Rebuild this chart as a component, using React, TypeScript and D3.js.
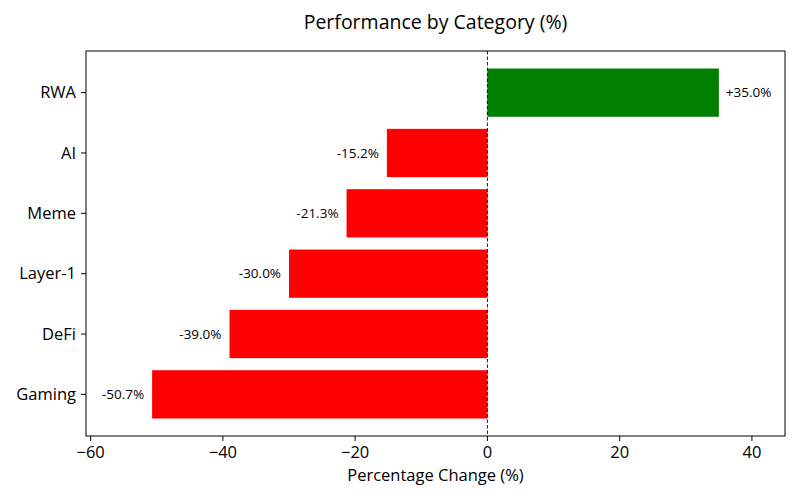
import React, { useEffect, useRef } from 'react';
import * as d3 from 'd3';

const categories = ['Gaming', 'DeFi', 'Layer-1', 'Meme', 'AI', 'RWA'];
const changes = [-50.7, -39.0, -30.0, -21.3, -15.2, 35.0];
const xTicks = [-60, -40, -20, 0, 20, 40];

const FONT = '"Open Sans", "DejaVu Sans", sans-serif';

const App: React.FC = () => {
    const ref = useRef<SVGSVGElement>(null);

    useEffect(() => {
        if (!ref.current) return;
        const svg = d3.select(ref.current);
        svg.selectAll('*').remove();

        const margin = { top: 51, right: 15, bottom: 64, left: 86 };
        const width = 800 - margin.left - margin.right;
        const height = 500 - margin.top - margin.bottom;

        const g = svg.append('g')
            .attr('transform', `translate(${margin.left},${margin.top})`);

        const x = d3.scaleLinear()
            .domain([-60.7, 45])
            .range([0, width]);

        // bars sit on integer positions like matplotlib barh
        const y = d3.scaleLinear()
            .domain([-0.69, categories.length - 1 + 0.69])
            .range([height, 0]);
        const barH = y(0) - y(0.8);

        g.selectAll('.bar')
            .data(changes)
            .enter().append('rect')
            .attr('class', 'bar')
            .attr('x', d => x(Math.min(0, d)))
            .attr('y', (d, i) => y(i + 0.4))
            .attr('width', d => Math.abs(x(d) - x(0)))
            .attr('height', barH)
            .attr('fill', d => d >= 0 ? '#008000' : '#ff0000');

        g.append('line')
            .attr('x1', x(0)).attr('x2', x(0))
            .attr('y1', 0).attr('y2', height)
            .attr('stroke', '#000')
            .attr('stroke-width', 0.9)
            .attr('stroke-dasharray', '3.5,2');

        g.selectAll('.val')
            .data(changes)
            .enter().append('text')
            .attr('class', 'val')
            .attr('x', d => d >= 0 ? x(d) + 7 : x(d) - 8)
            .attr('y', (d, i) => y(i))
            .attr('dy', '0.35em')
            .attr('text-anchor', d => d >= 0 ? 'start' : 'end')
            .attr('font-family', FONT)
            .attr('font-size', 13.5)
            .attr('fill', '#000')
            .text(d => (d >= 0 ? '+' : '') + d.toFixed(1) + '%');

        // frame
        g.append('rect')
            .attr('width', width)
            .attr('height', height)
            .attr('fill', 'none')
            .attr('stroke', '#000')
            .attr('stroke-width', 1);

        // x axis
        const xa = g.append('g').attr('transform', `translate(0,${height})`);
        xTicks.forEach(t => {
            xa.append('line')
                .attr('x1', x(t)).attr('x2', x(t))
                .attr('y1', 0).attr('y2', 5)
                .attr('stroke', '#000');
            xa.append('text')
                .attr('x', x(t))
                .attr('y', 22)
                .attr('text-anchor', 'middle')
                .attr('font-family', FONT)
                .attr('font-size', 16.5)
                .text(t < 0 ? '\u2212' + Math.abs(t) : String(t));
        });

        // y axis
        const ya = g.append('g');
        categories.forEach((c, i) => {
            ya.append('line')
                .attr('x1', -5).attr('x2', 0)
                .attr('y1', y(i)).attr('y2', y(i))
                .attr('stroke', '#000');
            ya.append('text')
                .attr('x', -10)
                .attr('y', y(i))
                .attr('dy', '0.35em')
                .attr('text-anchor', 'end')
                .attr('font-family', FONT)
                .attr('font-size', 16.5)
                .text(c);
        });

        g.append('text')
            .attr('x', width / 2)
            .attr('y', height + 45)
            .attr('text-anchor', 'middle')
            .attr('font-family', FONT)
            .attr('font-size', 16.5)
            .text('Percentage Change (%)');

        svg.append('text')
            .attr('x', margin.left + width / 2)
            .attr('y', 29)
            .attr('text-anchor', 'middle')
            .attr('font-family', FONT)
            .attr('font-size', 19.5)
            .text('Performance by Category (%)');
    }, []);

    return (
        <svg ref={ref} width={800} height={500}
            style={{ position: 'absolute', left: 0, top: 0, background: '#fff' }} />
    );
};

export default App;
